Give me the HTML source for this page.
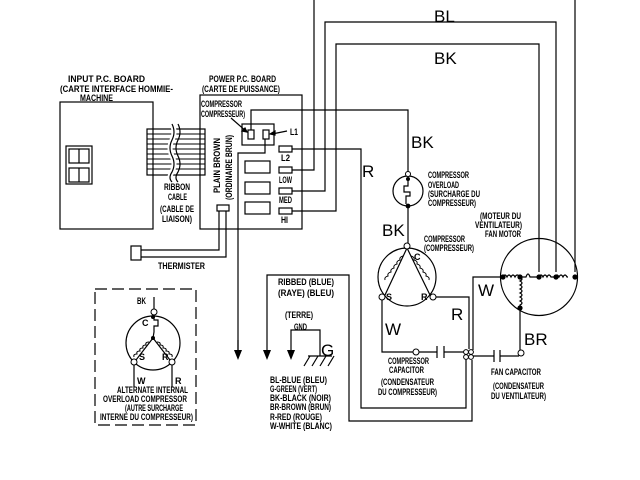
<!DOCTYPE html>
<html><head><meta charset="utf-8"><style>
html,body{margin:0;padding:0;background:#fff;}
svg{display:block;}
text{font-family:"Liberation Sans Narrow","Liberation Sans",sans-serif;fill:#000;}
.s{font-size:9px;font-weight:bold;}
.b{font-size:17px;}
</style></head><body>
<svg width="640" height="480" viewBox="0 0 640 480" xmlns="http://www.w3.org/2000/svg">
<g fill="none" stroke="#000" stroke-width="1.2">
<rect x="60" y="102" width="93" height="127"/>
<rect x="66" y="146" width="26" height="38"/>
<rect x="69" y="149" width="20" height="14"/><line x1="79" y1="149" x2="79" y2="163"/>
<rect x="69" y="168" width="20" height="14"/><line x1="79" y1="168" x2="79" y2="182"/>
<rect x="147" y="129" width="58" height="46"/>
<g stroke-width="0.9">
<line x1="147" y1="134" x2="205" y2="134"/><line x1="147" y1="139" x2="205" y2="139"/>
<line x1="147" y1="144" x2="205" y2="144"/><line x1="147" y1="149" x2="205" y2="149"/>
<line x1="147" y1="154" x2="205" y2="154"/><line x1="147" y1="159" x2="205" y2="159"/>
<line x1="147" y1="164" x2="205" y2="164"/><line x1="147" y1="169" x2="205" y2="169"/>
</g>
<path d="M172 124 q4 8 0 16 q-4 8 0 16 q4 8 0 16 q-4 6 0 10" stroke="#fff" stroke-width="5"/>
<path d="M172 124 q4 8 0 16 q-4 8 0 16 q4 8 0 16 q-4 6 0 10"/>
<path d="M178 124 q4 8 0 16 q-4 8 0 16 q4 8 0 16 q-4 6 0 10"/>
<rect x="200" y="95" width="102" height="134"/>
<rect x="242" y="124" width="32" height="21"/>
<rect x="248" y="130" width="6" height="9"/>
<rect x="263" y="130" width="6" height="9"/>
<line x1="231" y1="118" x2="247" y2="132"/>
<path d="M247 132 l-5 -1 l3 -3 z" fill="#000"/>
<line x1="287" y1="131" x2="272" y2="134"/>
<path d="M270 134 l5 -3 l0 4 z" fill="#000"/>
<rect x="279" y="146" width="13" height="6"/>
<rect x="279" y="167" width="13" height="6"/>
<rect x="279" y="188" width="13" height="6"/>
<rect x="279" y="208" width="13" height="6"/>
<rect x="245" y="161" width="25" height="12"/>
<rect x="245" y="182" width="25" height="12"/>
<rect x="245" y="202" width="25" height="12"/>
<rect x="217" y="205" width="12" height="6"/>
<polyline points="219,211 219,250 141,250"/>
<polyline points="226,211 226,257 141,257"/>
<rect x="131" y="246" width="10" height="14"/>
<polyline points="251,130 251,110 408,110 408,174"/>
<polyline points="265,139 265,153 238,153 238,352"/>
<polyline points="292,149 361,149 361,408 466,408 466,357"/>
<polyline points="292,170 314,170 314,0"/>
<polyline points="292,191 325,191 325,22 556,22 556,272"/>
<polyline points="292,211 336,211 336,44 539,44 539,272"/>
<line x1="575" y1="0" x2="575" y2="272"/>
<circle cx="408" cy="191" r="15"/>
<polyline points="408,178 408,186 404,186 404,192 410,192 410,196 406,196 406,204"/>
<line x1="408" y1="208" x2="408" y2="245"/>
<circle cx="407" cy="277" r="29"/>
<path d="M407 248 L385 295 M407 248 L430 295"/>
<path d="M403 256 q-4 1 -3 4 q-4 1 -3 4 q-4 1 -3 4 q-4 1 -3 4 q-4 1 -3 4 q-4 1 -3 4" stroke-width="1"/>
<path d="M411 256 q4 1 3 4 q4 1 3 4 q4 1 3 4 q4 1 3 4 q4 1 3 4 q4 1 3 4" stroke-width="1"/>
<polyline points="382,300 382,352 413,352"/>
<line x1="419" y1="352" x2="437" y2="352"/>
<line x1="437" y1="346" x2="437" y2="358"/><line x1="444" y1="346" x2="444" y2="358"/>
<line x1="444" y1="352" x2="464" y2="352"/>
<polyline points="436,297 469,297 469,349"/>
<circle cx="539" cy="277" r="38.5"/>
<path d="M503 277 q2 -4 4 0 q2 -4 4 0 q2 -4 4 0 q2 -4 5 0 l6 0 q2 -6 4 0 l9 0 q2 -4 4 0 q2 -4 4 0 q2 -4 4 0 l4 0 q2 -4 4 0 q2 -4 4 0 q2 -4 4 0 l1 0"/>
<path d="M520 277 q4 2 0 4 q4 2 0 4 q4 2 0 4 q4 2 0 4 q4 2 0 4 q4 2 0 4 q4 2 0 4 l0 3"/>
<polyline points="503,277 473,277 473,350"/>
<line x1="520" y1="308" x2="520" y2="350"/>
<polyline points="472,356 494,356"/><line x1="494" y1="350" x2="494" y2="362"/><line x1="500" y1="350" x2="500" y2="362"/>
<polyline points="500,356 519,356"/>
<polyline points="267,357 267,275 349,275 349,421 472,421 472,360"/>
<line x1="238" y1="340" x2="238" y2="352"/>
<polyline points="291,350 291,330 320,330 320,356"/>
<line x1="308" y1="356" x2="332" y2="356"/>
<line x1="310" y1="356" x2="304" y2="366"/><line x1="318" y1="356" x2="312" y2="366"/><line x1="326" y1="356" x2="320" y2="366"/><line x1="334" y1="356" x2="328" y2="366"/>
<rect x="95" y="289" width="101" height="136" stroke-dasharray="12,5"/>
<circle cx="153" cy="343" r="27"/>
<line x1="154" y1="297" x2="154" y2="309"/>
<polyline points="154,315 154,320 158,320 158,326 154,326 154,332 153,338"/>
<path d="M153 338 L136 360 M153 338 L170 360"/>
<path d="M149 342 q-4 0 -3 3 q-4 0 -3 3 q-4 0 -3 3 q-4 0 -3 3 q-4 0 -3 3" stroke-width="1"/>
<path d="M157 342 q4 0 3 3 q4 0 3 3 q4 0 3 3 q4 0 3 3 q4 0 3 3" stroke-width="1"/>
<line x1="134" y1="365" x2="134" y2="387"/>
<line x1="172" y1="365" x2="172" y2="387"/>
</g>
<g fill="#000">
<path d="M234 350 l8 0 l-4 10 z"/><path d="M263 350 l8 0 l-4 10 z"/><path d="M287 350 l8 0 l-4 10 z"/>
<circle cx="408" cy="179" r="2"/><circle cx="408" cy="206" r="2.4"/>
<circle cx="153" cy="317" r="2"/><circle cx="153" cy="338" r="2"/>
<circle cx="503" cy="277" r="2.6"/><circle cx="520" cy="277" r="2.6"/><circle cx="539" cy="277" r="2.6"/><circle cx="556" cy="277" r="2.6"/><circle cx="575" cy="277" r="2.6"/><circle cx="520" cy="308" r="2.6"/>
</g>
<g fill="#fff" stroke="#000" stroke-width="1">
<circle cx="408" cy="174" r="2.5"/><circle cx="407" cy="246" r="3"/>
<circle cx="382" cy="297" r="3"/><circle cx="433" cy="297" r="3"/>
<circle cx="416" cy="352" r="3"/><circle cx="521" cy="353" r="3"/>
<circle cx="466" cy="352" r="2.4"/><circle cx="471" cy="352" r="2.4"/><circle cx="466" cy="357" r="2.4"/><circle cx="471" cy="357" r="2.4"/>
<circle cx="154" cy="312" r="3"/><circle cx="134" cy="362" r="3"/><circle cx="172" cy="362" r="3"/>
</g>
<g class="s">
<text x="68" y="82" textLength="77" lengthAdjust="spacingAndGlyphs">INPUT P.C. BOARD</text>
<text x="60" y="92" textLength="113" lengthAdjust="spacingAndGlyphs">(CARTE INTERFACE HOMMIE-</text>
<text x="80" y="101" textLength="33" lengthAdjust="spacingAndGlyphs">MACHINE</text>
<text x="209" y="82" textLength="67" lengthAdjust="spacingAndGlyphs">POWER P.C. BOARD</text>
<text x="202" y="92" textLength="78" lengthAdjust="spacingAndGlyphs">(CARTE DE PUISSANCE)</text>
<text x="201" y="107" textLength="41" lengthAdjust="spacingAndGlyphs">COMPRESSOR</text>
<text x="201" y="117" textLength="44" lengthAdjust="spacingAndGlyphs">COMPRESSEUR)</text>
<text x="290" y="135" textLength="8" lengthAdjust="spacingAndGlyphs">L1</text>
<text x="281" y="161" textLength="9" lengthAdjust="spacingAndGlyphs">L2</text>
<text x="279" y="183" textLength="13" lengthAdjust="spacingAndGlyphs">LOW</text>
<text x="279" y="203" textLength="13" lengthAdjust="spacingAndGlyphs">MED</text>
<text x="281" y="223" textLength="7" lengthAdjust="spacingAndGlyphs">HI</text>
<text x="164" y="190" textLength="26" lengthAdjust="spacingAndGlyphs">RIBBON</text>
<text x="168" y="200" textLength="19" lengthAdjust="spacingAndGlyphs">CABLE</text>
<text x="160" y="212" textLength="34" lengthAdjust="spacingAndGlyphs">(CABLE DE</text>
<text x="162" y="222" textLength="30" lengthAdjust="spacingAndGlyphs">LIAISON)</text>
<text transform="translate(220,193) rotate(-90)" textLength="55" lengthAdjust="spacingAndGlyphs">PLAIN BROWN</text>
<text transform="translate(232,200) rotate(-90)" textLength="65" lengthAdjust="spacingAndGlyphs">(ORDINAIRE BRUN)</text>
<text x="158" y="269" textLength="47" lengthAdjust="spacingAndGlyphs">THERMISTER</text>
<text x="428" y="178" textLength="41" lengthAdjust="spacingAndGlyphs">COMPRESSOR</text>
<text x="428" y="188" textLength="31" lengthAdjust="spacingAndGlyphs">OVERLOAD</text>
<text x="428" y="197" textLength="52" lengthAdjust="spacingAndGlyphs">(SURCHARGE DU</text>
<text x="428" y="206" textLength="48" lengthAdjust="spacingAndGlyphs">COMPRESSEUR)</text>
<text x="424" y="242" textLength="41" lengthAdjust="spacingAndGlyphs">COMPRESSOR</text>
<text x="424" y="251" textLength="50" lengthAdjust="spacingAndGlyphs">(COMPRESSEUR)</text>
<text x="480" y="219" textLength="41" lengthAdjust="spacingAndGlyphs">(MOTEUR DU</text>
<text x="475" y="228" textLength="47" lengthAdjust="spacingAndGlyphs">VENTILATEUR)</text>
<text x="485" y="237" textLength="36" lengthAdjust="spacingAndGlyphs">FAN MOTOR</text>
<text x="388" y="364" textLength="41" lengthAdjust="spacingAndGlyphs">COMPRESSOR</text>
<text x="389" y="373" textLength="35" lengthAdjust="spacingAndGlyphs">CAPACITOR</text>
<text x="381" y="385" textLength="53" lengthAdjust="spacingAndGlyphs">(CONDENSATEUR</text>
<text x="378" y="395" textLength="59" lengthAdjust="spacingAndGlyphs">DU COMPRESSEUR)</text>
<text x="491" y="375" textLength="50" lengthAdjust="spacingAndGlyphs">FAN CAPACITOR</text>
<text x="493" y="389" textLength="51" lengthAdjust="spacingAndGlyphs">(CONDENSATEUR</text>
<text x="491" y="399" textLength="55" lengthAdjust="spacingAndGlyphs">DU VENTILATEUR)</text>
<text x="278" y="285" textLength="56" lengthAdjust="spacingAndGlyphs">RIBBED  (BLUE)</text>
<text x="278" y="296" textLength="56" lengthAdjust="spacingAndGlyphs">(RAYE)  (BLEU)</text>
<text x="285" y="318" textLength="28" lengthAdjust="spacingAndGlyphs">(TERRE)</text>
<text x="294" y="330" textLength="13" lengthAdjust="spacingAndGlyphs">GND</text>
<text x="270" y="383" textLength="57" lengthAdjust="spacingAndGlyphs">BL-BLUE (BLEU)</text>
<text x="270" y="392" textLength="47" lengthAdjust="spacingAndGlyphs">G-GREEN (VERT)</text>
<text x="270" y="401" textLength="61" lengthAdjust="spacingAndGlyphs">BK-BLACK (NOIR)</text>
<text x="270" y="410" textLength="61" lengthAdjust="spacingAndGlyphs">BR-BROWN (BRUN)</text>
<text x="270" y="420" textLength="52" lengthAdjust="spacingAndGlyphs">R-RED (ROUGE)</text>
<text x="270" y="429" textLength="62" lengthAdjust="spacingAndGlyphs">W-WHITE (BLANC)</text>
<text x="137" y="304" textLength="9" lengthAdjust="spacingAndGlyphs">BK</text>
<text x="142" y="326">C</text>
<text x="139" y="360">S</text>
<text x="162" y="360">R</text>
<text x="137" y="384">W</text>
<text x="175" y="384">R</text>
<text x="386" y="300">S</text>
<text x="421" y="300">R</text>
<text x="414" y="260">C</text>
<text x="117" y="393" textLength="71" lengthAdjust="spacingAndGlyphs">ALTERNATE INTERNAL</text>
<text x="103" y="402" textLength="84" lengthAdjust="spacingAndGlyphs">OVERLOAD COMPRESSOR</text>
<text x="125" y="411" textLength="58" lengthAdjust="spacingAndGlyphs">(AUTRE SURCHARGE</text>
<text x="100" y="420" textLength="93" lengthAdjust="spacingAndGlyphs">INTERNE DU COMPRESSEUR)</text>
</g>
<g class="b">
<text x="434" y="22">BL</text>
<text x="434" y="64">BK</text>
<text x="411" y="148">BK</text>
<text x="362" y="177">R</text>
<text x="382" y="236">BK</text>
<text x="451" y="320">R</text>
<text x="385" y="335">W</text>
<text x="478" y="296">W</text>
<text x="524" y="345">BR</text>
<text x="321" y="356">G</text>
</g>
</svg>
</body></html>
